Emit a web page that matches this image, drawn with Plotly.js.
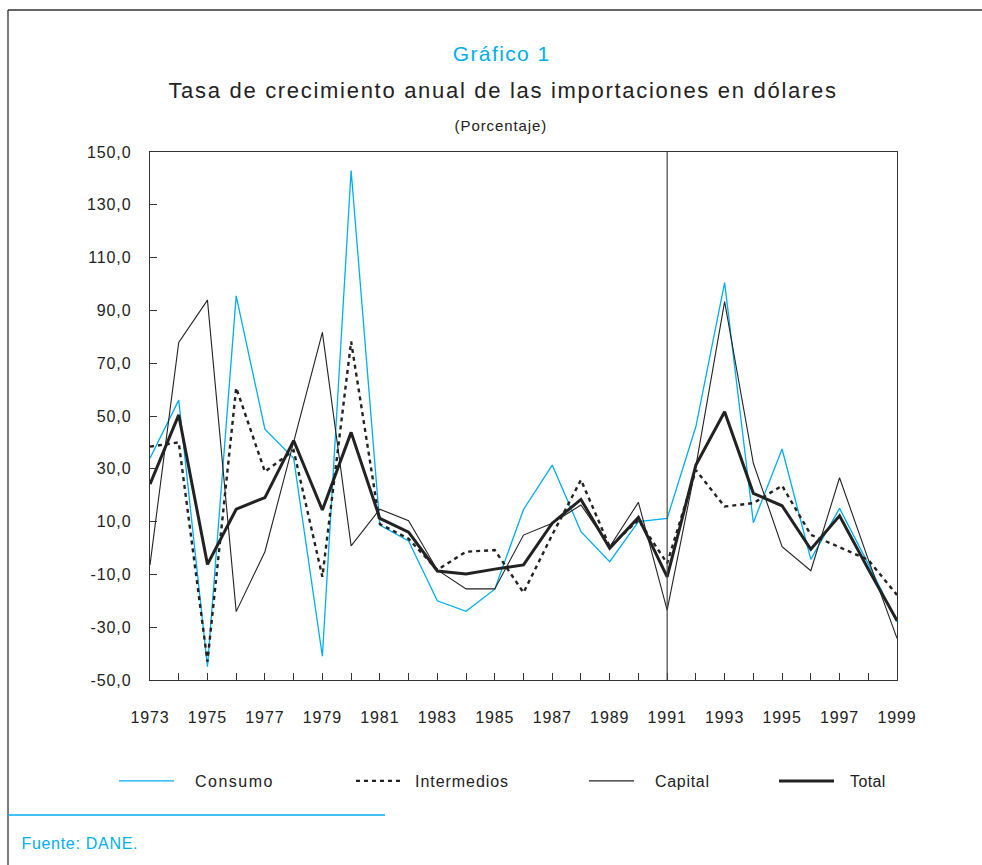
<!DOCTYPE html>
<html>
<head>
<meta charset="utf-8">
<script src="https://cdn.plot.ly/plotly-3.0.1.min.js"></script>
<style>
  html, body { margin: 0; padding: 0; background: #fff; }
  #chart { width: 982px; height: 865px; }
  .gtitle { letter-spacing: 1.7px; }
  g.annotation[data-index="0"] text { letter-spacing: 1.4px; }
  g.annotation[data-index="1"] text { letter-spacing: 0.9px; }
  g.annotation[data-index="2"] text { letter-spacing: 0.7px; }
  .xtick text, .ytick text { letter-spacing: 0.9px; }
  .infolayer g[class^="legend"], .infolayer g[class^="legend"] g { clip-path: none !important; }
  .infolayer g.legend text  { letter-spacing: 1.5px;  transform: translateX(16px); }
  .infolayer g.legend2 text { letter-spacing: 0.95px; transform: translateX(9px); }
  .infolayer g.legend3 text { letter-spacing: 0.7px;  transform: translateX(16px); }
  .infolayer g.legend4 text { letter-spacing: 0.4px;  transform: translateX(11px); }
</style>
</head>
<body>
<div id="chart"></div>
<script>
const years = [1973,1974,1975,1976,1977,1978,1979,1980,1981,1982,1983,1984,1985,1986,1987,1988,1989,1990,1991,1992,1993,1994,1995,1996,1997,1998,1999];
const consumo     = [34, 56, -45, 95.5, 45, 34, -41, 143, 8.7, 2.7, -20, -24, -15.6, 14.6, 31.4, 6.2, -5.2, 10, 11.2, 46, 100.5, 9.6, 37.5, -4.3, 15, -6, -28];
const intermedios = [38.4, 40, -43, 60.7, 28.9, 37, -10.9, 78.2, 9.1, 3.5, -8.3, -1.4, -0.8, -16.9, 5, 25.8, 0.5, 10.6, -5.8, 29.5, 15.7, 17, 23.6, 5, 0.3, -4.5, -17.8];
const capital     = [-6.4, 77.9, 93.9, -24.1, -1.4, 40, 81.7, 0.8, 14.7, 10.3, -8.3, -15.5, -15.5, 4.9, 9.4, 16.3, 0.5, 17.3, -23.5, 31, 93.3, 32.1, 0.5, -8.6, 26.6, -4.3, -34.2];
const total       = [24.2, 50.4, -6.2, 14.7, 19.1, 40.7, 14.4, 43.8, 11.2, 6, -8.7, -9.8, -8, -6.4, 9.4, 18.4, -0.1, 11.6, -10.9, 31.4, 51.6, 20.7, 16, -0.5, 12.2, -8, -27.5];
const seriesNames = ["Consumo", "Intermedios", "Capital", "Total"];
const yTickVals = [-50,-30,-10,10,30,50,70,90,110,130,150];
const yTickText = yTickVals.map(v => v.toFixed(1).replace('.', ','));
const xTickText = years.map(y => (y % 2 === 1 ? String(y) : ''));
const breakYear = 1991;

const FONT = '"Liberation Sans", Arial, sans-serif';
const BLUE = '#00AEEF';
const DARK = '#222222';

const traces = [
  {x: years, y: consumo, name: seriesNames[0], type: 'scatter', mode: 'lines',
   line: {color: BLUE, width: 1.3}, legend: 'legend'},
  {x: years, y: intermedios, name: seriesNames[1], type: 'scatter', mode: 'lines',
   line: {color: DARK, width: 2.4, dash: '4px,4px'}, legend: 'legend2'},
  {x: years, y: capital, name: seriesNames[2], type: 'scatter', mode: 'lines',
   line: {color: DARK, width: 1.1}, legend: 'legend3'},
  {x: years, y: total, name: seriesNames[3], type: 'scatter', mode: 'lines',
   line: {color: DARK, width: 3}, legend: 'legend4'}
];

function px(p) { return (p - 150) / 747; }
function py(p) { return (680 - p) / 528; }

const legendBase = {orientation: 'h', yanchor: 'middle', xanchor: 'left', y: py(781),
  font: {family: FONT, size: 16, color: DARK}, bgcolor: 'rgba(0,0,0,0)', itemwidth: 55};

const layout = {
  width: 982, height: 865,
  margin: {l: 150, r: 85, t: 152, b: 185, pad: 0},
  paper_bgcolor: '#ffffff', plot_bgcolor: '#ffffff',
  font: {family: FONT, size: 16, color: DARK},
  title: {text: 'Tasa de crecimiento anual de las importaciones en dólares',
          font: {family: FONT, size: 22, color: DARK},
          xref: 'paper', x: px(503), xanchor: 'center',
          yref: 'container', y: 1 - 90/865, yanchor: 'middle'},
  xaxis: {range: [1973, 1999], tickmode: 'array', tickvals: years, ticktext: xTickText,
          ticks: 'inside', ticklen: 7, tickwidth: 1, tickcolor: '#333',
          showline: true, linecolor: '#333', linewidth: 1.3, mirror: true,
          showgrid: false, zeroline: false, ticklabelstandoff: 22,
          tickfont: {family: FONT, size: 16, color: DARK}},
  yaxis: {range: [-50, 150], tickmode: 'array', tickvals: yTickVals, ticktext: yTickText,
          ticks: 'inside', ticklen: 7, tickwidth: 1, tickcolor: '#333',
          showline: true, linecolor: '#333', linewidth: 1.3, mirror: true,
          showgrid: false, zeroline: false, ticklabelstandoff: 14,
          tickfont: {family: FONT, size: 16, color: DARK}},
  showlegend: true,
  legend:  Object.assign({}, legendBase, {x: px(114)}),
  legend2: Object.assign({}, legendBase, {x: px(351), itemwidth: 45}),
  legend3: Object.assign({}, legendBase, {x: px(584), itemwidth: 45}),
  legend4: Object.assign({}, legendBase, {x: px(774)}),
  annotations: [
    {text: 'Gráfico 1', xref: 'paper', yref: 'paper', x: px(501), y: py(53),
     xanchor: 'center', yanchor: 'middle', showarrow: false,
     font: {family: FONT, size: 21, color: BLUE}},
    {text: '(Porcentaje)', xref: 'paper', yref: 'paper', x: px(501), y: py(125),
     xanchor: 'center', yanchor: 'middle', showarrow: false,
     font: {family: FONT, size: 15, color: DARK}},
    {text: 'Fuente: DANE.', xref: 'paper', yref: 'paper', x: px(24), y: py(843),
     xanchor: 'left', yanchor: 'middle', showarrow: false,
     font: {family: FONT, size: 16, color: BLUE}}
  ],
  shapes: [
    {type: 'line', xref: 'x', yref: 'paper', x0: breakYear, x1: breakYear, y0: 0, y1: 1,
     line: {color: '#444', width: 1.2}},
    {type: 'line', xref: 'paper', yref: 'paper', x0: px(8), x1: px(8), y0: py(10), y1: py(870),
     line: {color: '#333', width: 1.3}},
    {type: 'line', xref: 'paper', yref: 'paper', x0: px(8), x1: px(990), y0: py(10), y1: py(10),
     line: {color: '#333', width: 1.3}},
    {type: 'line', xref: 'paper', yref: 'paper', x0: px(8), x1: px(385), y0: py(815), y1: py(815),
     line: {color: BLUE, width: 1.3}}
  ]
};

Plotly.newPlot('chart', traces, layout, {displayModeBar: false, staticPlot: true});
</script>
</body>
</html>
